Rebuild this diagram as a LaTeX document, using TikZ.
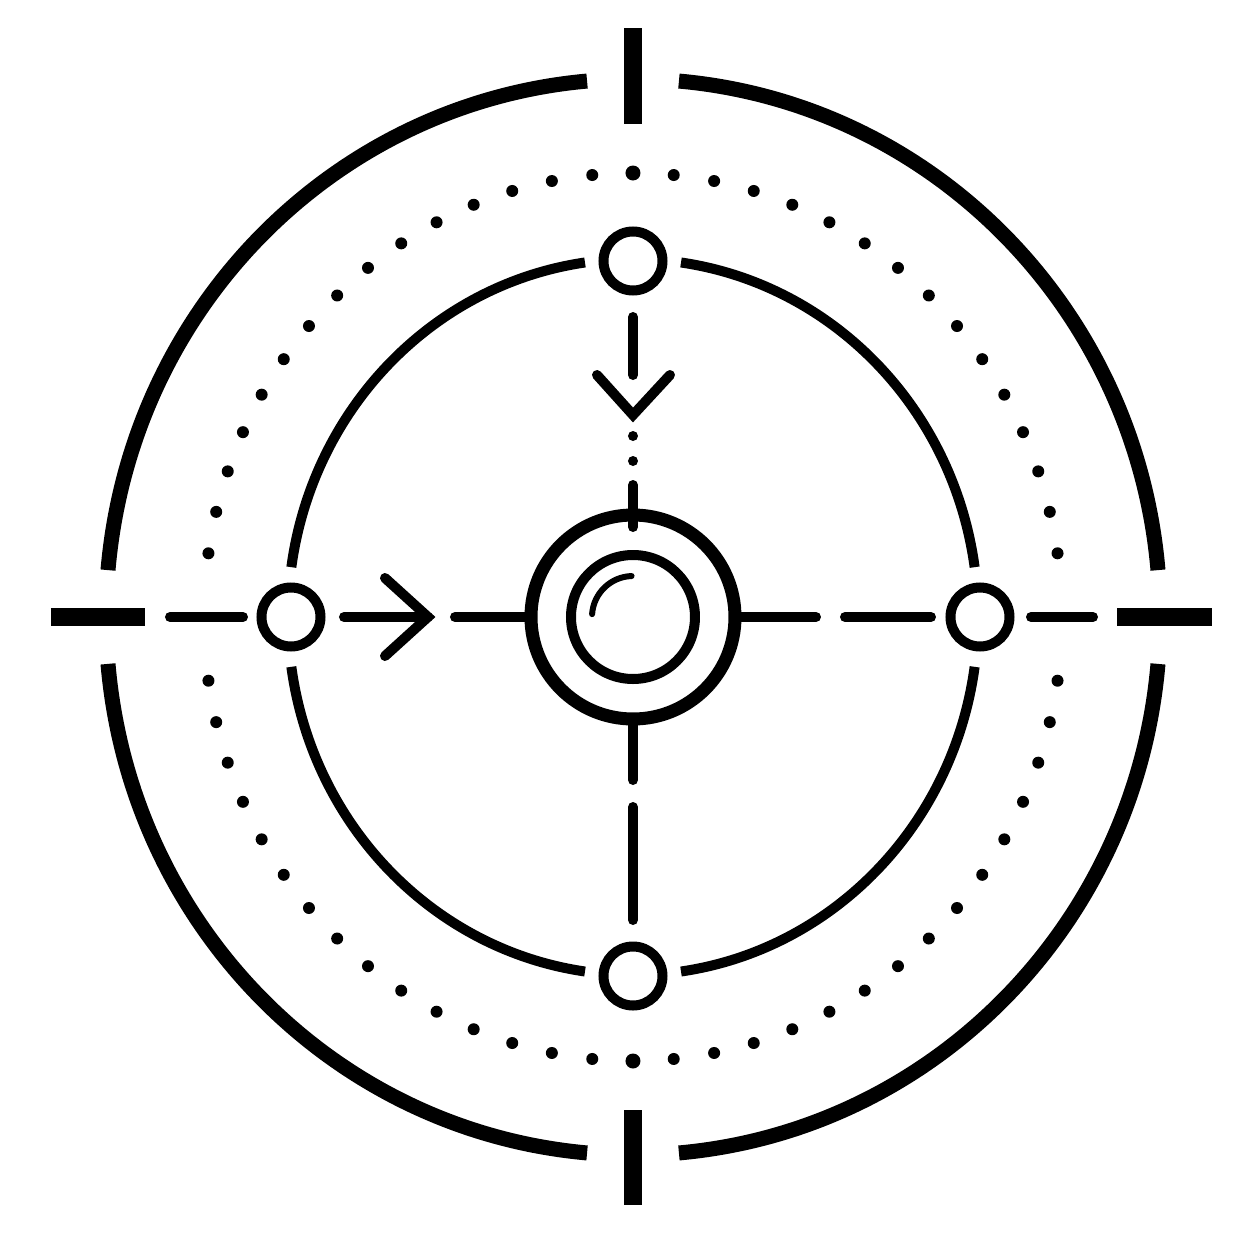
\documentclass[tikz,border=0pt]{standalone}
\usepackage{tikz}

\tikzset{
  outerring/.style={line width=1.5mm},
  crossbar/.style={line width=1.8mm},
  axisline/.style={line width=1mm, line cap=round},
  waypoint/.style={circle, draw, line width=1mm, minimum size=5.9mm, inner sep=0pt},
}

\begin{document}
\begin{tikzpicture}[x=0.1mm, y=0.1mm]
        \useasboundingbox (-633,-637) rectangle (621,617);

        % outer ring and the four bars
        \foreach \q in {0,90,180,270}
            \draw[outerring] ({527*cos(\q+5)},{538*sin(\q+5)}) arc[start angle=\q+5, end angle=\q+85, x radius=527, y radius=538];
        \draw[crossbar] (0,589) -- (0,493);
        \draw[crossbar] (0,-493) -- (0,-588);
        \draw[crossbar] (-582,0) -- (-488,0);
        \draw[crossbar] (484,0) -- (579,0);

        % dotted ring
        \foreach \a in {90,270}
            \foreach \k in {-15,...,15}
                \fill ({429*cos(\a+\k*5.45)},{444*sin(\a+\k*5.45)}) circle (6);
        \fill (0,444) circle (7.5);
        \fill (0,-444) circle (7.5);

        % centre
        \node[circle, draw, line width=1.3mm, minimum size=20.4mm, inner sep=0pt] (core) at (0,0) {};
        \draw[line width=1mm] (core.center) circle (62);
        \draw[line width=0.6mm, line cap=round] (core.center) ++(92:41) arc[start angle=92, end angle=176, radius=41];

        % waypoints on the inner ring
        \node[waypoint] (pN) at (0,356) {};
        \node[waypoint] (pS) at (0,-359) {};
        \node[waypoint] (pW) at (-342,0) {};
        \node[waypoint] (pE) at (347,0) {};
        \foreach \q in {0,90,180,270}
            \draw[line width=1mm] ({345*cos(\q+8)},{358*sin(\q+8)}) arc[start angle=\q+8, end angle=\q+82, x radius=345, y radius=358];

        % horizontal axis
        \draw[axisline] (-463,0) -- (-390,0);
        \draw[axisline] (-289,0) -- (-205,0);
        \draw[axisline] (-248,39) -- (-205,0) -- (-248,-39);
        \draw[axisline] (-178,0) -- (core.west);
        \draw[axisline] (core.east) -- (183,0);
        \draw[axisline] (212,0) -- (298,0);
        \draw[axisline] (398,0) -- (460,0);

        % vertical axis
        \draw[axisline] (0,300) -- (0,242);
        \draw[axisline] (-36,242) -- (0,202) -- (37,242);
        \fill (0,181) circle (5);
        \fill (0,156) circle (5);
        \draw[axisline] (0,132) -- (0,90);
        \draw[axisline] (core.south) -- (0,-163);
        \draw[axisline] (0,-190) -- (0,-303);
    \end{tikzpicture}
\end{document}
